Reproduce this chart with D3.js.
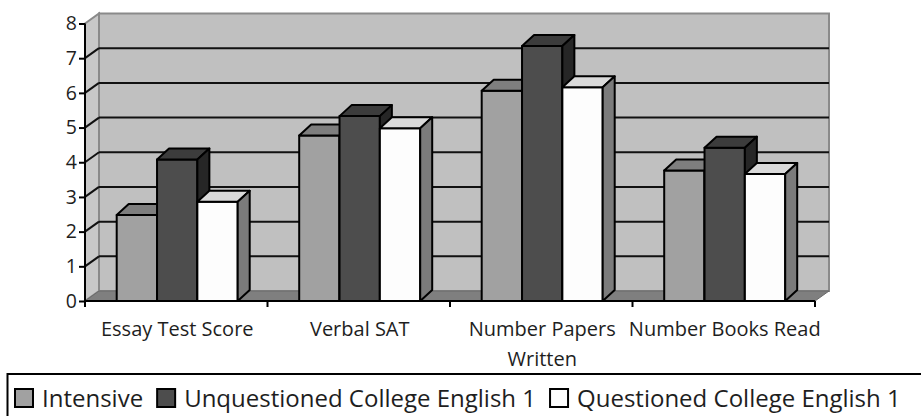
<!DOCTYPE html>
<html>
<head>
<meta charset="utf-8">
<script src="https://cdn.jsdelivr.net/npm/d3@7"></script>
<style>
  body { margin: 0; background: #fff; }
  svg { display: block; font-family: "Open Sans", sans-serif; }
</style>
</head>
<body>
<script>
// Data
var categories = ["Essay Test Score", "Verbal SAT", "Number Papers\nWritten", "Number Books Read"];
var seriesNames = ["Intensive", "Unquestioned College English 1", "Questioned College English 1"];
var intensive = [2.48, 4.77, 6.06, 3.76];
var unquestioned = [4.08, 5.33, 7.35, 4.42];
var questioned = [2.86, 4.98, 6.16, 3.66];
var yTicks = [0, 1, 2, 3, 4, 5, 6, 7, 8];

var seriesValues = [intensive, unquestioned, questioned];

// colours: front, top, side
var colors = [
  {front: "#a1a1a1", top: "#7e7e7e", side: "#707070"},
  {front: "#4d4d4d", top: "#3c3c3c", side: "#262626"},
  {front: "#fdfdfd", top: "#dadada", side: "#7b7b7b"}
];

var width = 921, height = 416;
var wall = {dx: 14, dy: -10};   // depth of the walls
var depth = {dx: 12, dy: -11};  // depth of one column

var svg = d3.select("body").append("svg")
  .attr("width", width)
  .attr("height", height);

// Scales
var y = d3.scaleLinear().domain([0, 8]).range([301, 23.5]);
var x0 = d3.scaleBand().domain(categories).range([85, 815]);
var x1 = d3.scaleBand().domain(seriesNames).range([31.7, 152.7]);

var left = x0.range()[0], right = x0.range()[1];
var y0 = y(0), yTop = y(8);

function pts(a) {
  return a.map(function (p) { return p.join(","); }).join(" ");
}

// Back wall
svg.append("rect")
  .attr("x", left + wall.dx)
  .attr("y", yTop + wall.dy)
  .attr("width", right - left)
  .attr("height", y0 - yTop)
  .attr("fill", "#c0c0c0")
  .attr("stroke", "#8a8a8a")
  .attr("stroke-width", 2);

// Side wall
svg.append("polygon")
  .attr("points", pts([[left, yTop], [left + wall.dx, yTop + wall.dy],
    [left + wall.dx, y0 + wall.dy], [left, y0]]))
  .attr("fill", "#c8c8c8")
  .attr("stroke", "#8a8a8a")
  .attr("stroke-width", 2);

// Floor
svg.append("polygon")
  .attr("points", pts([[left, y0], [left + wall.dx, y0 + wall.dy],
    [right + wall.dx, y0 + wall.dy], [right, y0]]))
  .attr("fill", "#7f7f7f")
  .attr("stroke", "#6a6a6a")
  .attr("stroke-width", 1);

// Grid lines on the back wall and the side wall
var grid = yTicks.filter(function (d) { return d > 0 && d < 8; });

svg.selectAll(".grid")
  .data(grid)
  .enter().append("line")
  .attr("class", "grid")
  .attr("x1", left + wall.dx)
  .attr("x2", right + wall.dx)
  .attr("y1", function (d) { return y(d) + wall.dy; })
  .attr("y2", function (d) { return y(d) + wall.dy; })
  .attr("stroke", "#111")
  .attr("stroke-width", 2);

svg.selectAll(".side-grid")
  .data(grid)
  .enter().append("line")
  .attr("class", "side-grid")
  .attr("x1", left)
  .attr("x2", left + wall.dx)
  .attr("y1", function (d) { return y(d); })
  .attr("y2", function (d) { return y(d) + wall.dy; })
  .attr("stroke", "#111")
  .attr("stroke-width", 2);

// Columns, drawn left to right so the right ones sit in front
var bars = [];
categories.forEach(function (c, i) {
  seriesNames.forEach(function (s, j) {
    bars.push({cat: c, series: s, j: j, value: seriesValues[j][i]});
  });
});

var g = svg.selectAll(".bar")
  .data(bars)
  .enter().append("g")
  .attr("class", "bar")
  .attr("stroke", "#000")
  .attr("stroke-width", 2)
  .attr("stroke-linejoin", "round");

g.each(function (d) {
  var el = d3.select(this);
  var xa = x0(d.cat) + x1(d.series);
  var xb = xa + x1.bandwidth();
  var yt = y(d.value);

  el.append("rect")
    .attr("x", xa)
    .attr("y", yt)
    .attr("width", xb - xa)
    .attr("height", y0 - yt)
    .attr("fill", colors[d.j].front);

  el.append("polygon")
    .attr("points", pts([[xa, yt], [xa + depth.dx, yt + depth.dy],
      [xb + depth.dx, yt + depth.dy], [xb, yt]]))
    .attr("fill", colors[d.j].top);

  el.append("polygon")
    .attr("points", pts([[xb, yt], [xb + depth.dx, yt + depth.dy],
      [xb + depth.dx, y0 + depth.dy], [xb, y0]]))
    .attr("fill", colors[d.j].side);
});

// Y axis
var yAxis = svg.append("g")
  .attr("transform", "translate(" + left + ",0)")
  .call(d3.axisLeft(y).tickValues(yTicks).tickSize(6).tickPadding(2));

yAxis.select(".domain").remove();
yAxis.selectAll(".tick line").attr("stroke", "#000").attr("stroke-width", 2);
yAxis.selectAll(".tick text")
  .attr("fill", "#1e1e1e")
  .style("font-size", "19.5px")
  .style("font-family", "'Open Sans', sans-serif");

svg.append("line")
  .attr("x1", left).attr("x2", left)
  .attr("y1", yTop).attr("y2", y0)
  .attr("stroke", "#000").attr("stroke-width", 2);

// X axis: line, ticks at the category edges, labels in the middle
svg.append("line")
  .attr("x1", left).attr("x2", right)
  .attr("y1", y0).attr("y2", y0)
  .attr("stroke", "#000").attr("stroke-width", 2);

var edges = categories.map(function (c) { return x0(c); }).concat([right]);

svg.selectAll(".xtick")
  .data(edges)
  .enter().append("line")
  .attr("class", "xtick")
  .attr("x1", function (d) { return d; })
  .attr("x2", function (d) { return d; })
  .attr("y1", y0)
  .attr("y2", y0 + 6)
  .attr("stroke", "#000")
  .attr("stroke-width", 2);

var xLabels = svg.selectAll(".xlabel")
  .data(categories)
  .enter().append("text")
  .attr("class", "xlabel")
  .attr("text-anchor", "middle")
  .attr("fill", "#1e1e1e")
  .style("font-size", "20px");

xLabels.each(function (c) {
  var lines = c.split("\n");
  var t = d3.select(this);
  lines.forEach(function (line, k) {
    t.append("tspan")
      .attr("x", x0(c) + x0.bandwidth() / 2 + 1)
      .attr("y", 336 + k * 30)
      .text(line);
  });
});

// Legend
svg.append("rect")
  .attr("x", 7.5)
  .attr("y", 374)
  .attr("width", 940)
  .attr("height", 60)
  .attr("fill", "#fff")
  .attr("stroke", "#000")
  .attr("stroke-width", 2);

var lx = 15;
seriesNames.forEach(function (s, j) {
  svg.append("rect")
    .attr("x", lx)
    .attr("y", 389)
    .attr("width", 18)
    .attr("height", 18)
    .attr("fill", colors[j].front)
    .attr("stroke", "#000")
    .attr("stroke-width", 2);

  var t = svg.append("text")
    .attr("x", lx + 27)
    .attr("y", 407)
    .attr("fill", "#1e1e1e")
    .style("font-size", "24px")
    .text(s);

  lx += 27 + t.node().getComputedTextLength() + 14;
});
</script>
</body>
</html>
